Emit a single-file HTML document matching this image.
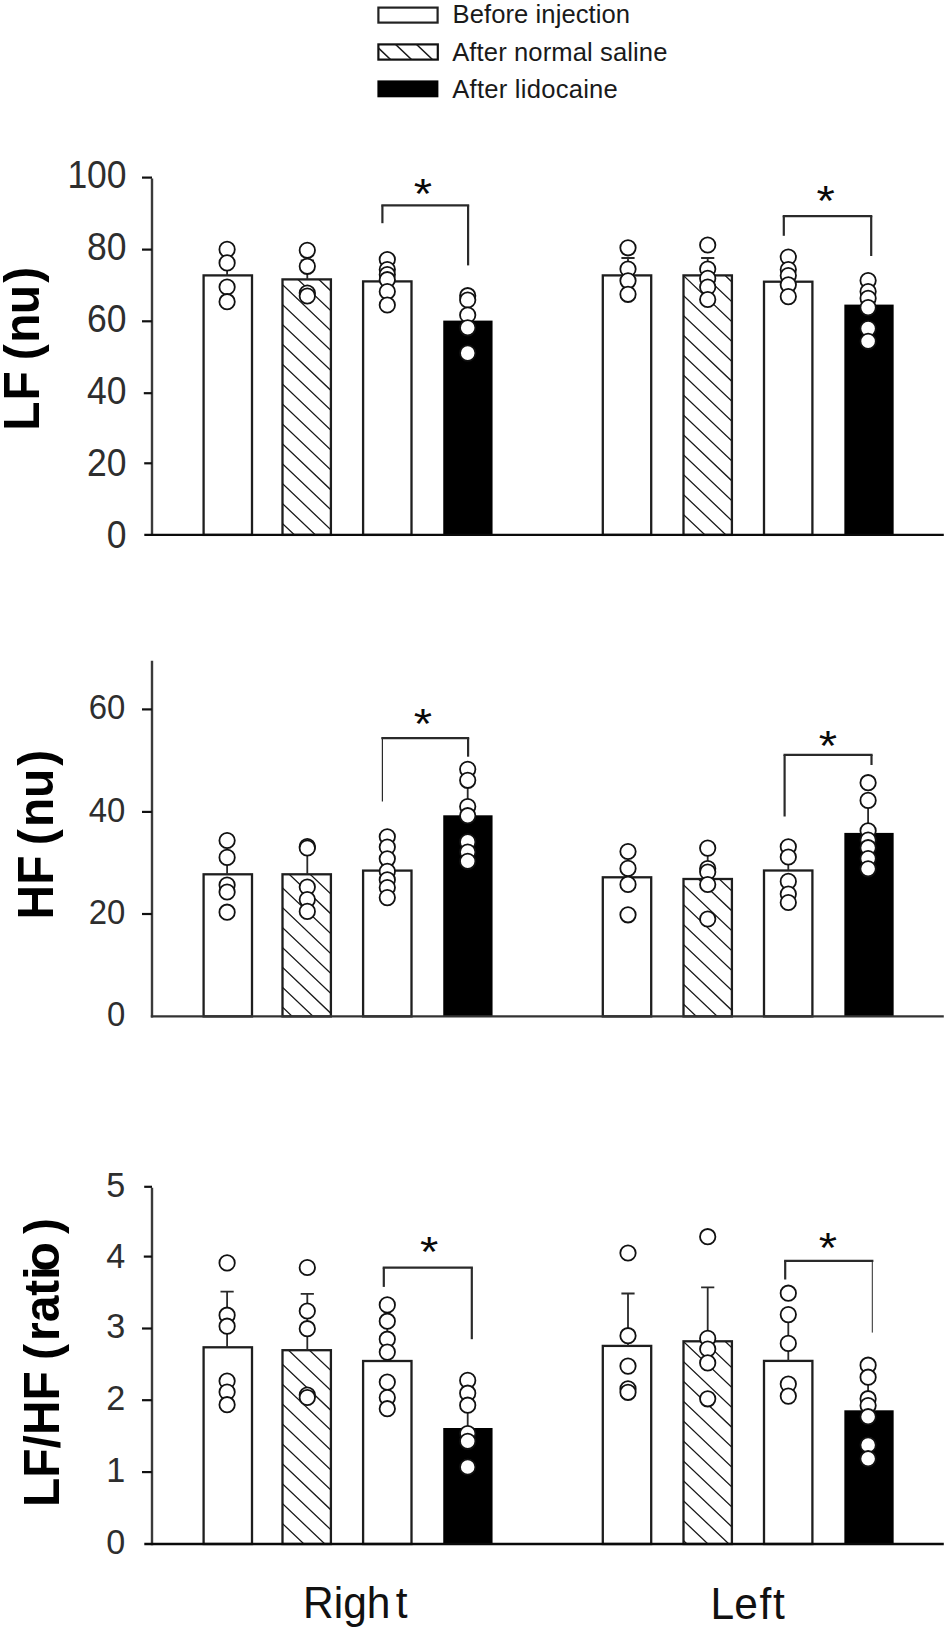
<!DOCTYPE html>
<html lang="en"><head><meta charset="utf-8"><title>LF, HF and LF/HF ratio before and after injection</title>
<style>
html,body{margin:0;padding:0;background:#fff;}
body{width:948px;height:1632px;overflow:hidden;font-family:"Liberation Sans",sans-serif;}
svg{display:block;}
</style></head><body>
<svg width="948" height="1632" viewBox="0 0 948 1632">
<rect width="100%" height="100%" fill="#fff"/>
<defs>
</defs>
<g id="legend">
<rect x="378.4" y="7.6" width="59.2" height="15.0" fill="#fff" stroke="#222" stroke-width="2.2"/>
<rect x="378.4" y="44.4" width="59.4" height="15.2" fill="#fff" stroke="#111" stroke-width="2.2"/>
<clipPath id="hl"><rect x="378.4" y="44.4" width="59.4" height="15.2"/></clipPath>
<path d="M376.4 -53.4L439.8 6.8M376.4 -33.5L439.8 26.7M376.4 -13.6L439.8 46.6M376.4 6.3L439.8 66.5M376.4 26.2L439.8 86.4M376.4 46.1L439.8 106.3M376.4 66.0L439.8 126.2M376.4 85.9L439.8 146.1" stroke="#1a1a1a" stroke-width="1.5" fill="none" clip-path="url(#hl)"/>
<rect x="377.4" y="80.4" width="61.0" height="16.9" fill="#000"/>
<g font-family="'Liberation Sans', sans-serif" font-size="25.6" fill="#1a1a1a">
<text x="452.6" y="23.3" textLength="177.4">Before injection</text>
<text x="452.2" y="60.5" textLength="215.2">After normal saline</text>
<text x="452.2" y="97.5" textLength="165.6">After lidocaine</text>
</g></g>
<g id="c1">
<rect x="203.6" y="275.4" width="48.4" height="259.5" fill="#fff" stroke="#1e1e1e" stroke-width="2.3"/>
<path d="M227.1 275.4V262.0M220.5 262.0H233.7" stroke="#2a2a2a" stroke-width="1.8" fill="none"/>
<circle cx="227.1" cy="249.4" r="7.7" fill="#fff" stroke="#111" stroke-width="1.8"/>
<circle cx="227.1" cy="262.9" r="7.7" fill="#fff" stroke="#111" stroke-width="1.8"/>
<circle cx="227.1" cy="287.0" r="7.7" fill="#fff" stroke="#111" stroke-width="1.8"/>
<circle cx="227.1" cy="301.7" r="7.7" fill="#fff" stroke="#111" stroke-width="1.8"/>
<rect x="282.5" y="279.4" width="48.4" height="255.5" fill="#fff" stroke="#1e1e1e" stroke-width="2.3"/>
<clipPath id="h1"><rect x="282.5" y="279.4" width="48.4" height="255.5"/></clipPath>
<path d="M280.5 203.2L332.9 253.0M280.5 223.1L332.9 272.9M280.5 243.0L332.9 292.8M280.5 262.9L332.9 312.7M280.5 282.8L332.9 332.6M280.5 302.7L332.9 352.5M280.5 322.6L332.9 372.4M280.5 342.5L332.9 392.3M280.5 362.4L332.9 412.2M280.5 382.3L332.9 432.1M280.5 402.2L332.9 452.0M280.5 422.1L332.9 471.9M280.5 442.0L332.9 491.8M280.5 461.9L332.9 511.7M280.5 481.8L332.9 531.6M280.5 501.7L332.9 551.5M280.5 521.6L332.9 571.4M280.5 541.5L332.9 591.3M280.5 561.4L332.9 611.2" stroke="#1a1a1a" stroke-width="1.3" fill="none" clip-path="url(#h1)"/>
<path d="M307.3 279.4V260.4M300.7 260.4H313.9" stroke="#2a2a2a" stroke-width="1.8" fill="none"/>
<circle cx="307.3" cy="250.3" r="7.7" fill="#fff" stroke="#111" stroke-width="1.8"/>
<circle cx="307.3" cy="266.3" r="7.7" fill="#fff" stroke="#111" stroke-width="1.8"/>
<circle cx="307.3" cy="293.0" r="7.7" fill="#fff" stroke="#111" stroke-width="1.8"/>
<circle cx="307.3" cy="296.0" r="7.7" fill="#fff" stroke="#111" stroke-width="1.8"/>
<rect x="363.1" y="281.4" width="48.4" height="253.5" fill="#fff" stroke="#1e1e1e" stroke-width="2.3"/>
<path d="M387.3 281.4V271.0M380.7 271.0H393.9" stroke="#2a2a2a" stroke-width="1.8" fill="none"/>
<circle cx="387.3" cy="259.5" r="7.7" fill="#fff" stroke="#111" stroke-width="1.8"/>
<circle cx="387.3" cy="269.6" r="7.7" fill="#fff" stroke="#111" stroke-width="1.8"/>
<circle cx="387.3" cy="274.6" r="7.7" fill="#fff" stroke="#111" stroke-width="1.8"/>
<circle cx="387.3" cy="279.7" r="7.7" fill="#fff" stroke="#111" stroke-width="1.8"/>
<circle cx="387.3" cy="291.5" r="7.7" fill="#fff" stroke="#111" stroke-width="1.8"/>
<circle cx="387.3" cy="305.0" r="7.7" fill="#fff" stroke="#111" stroke-width="1.8"/>
<rect x="443.25" y="320.6" width="49.3" height="214.3" fill="#000"/>
<path d="M467.7 321.0V299.0M461.1 299.0H474.3" stroke="#2a2a2a" stroke-width="1.8" fill="none"/>
<circle cx="467.7" cy="295.7" r="7.7" fill="#fff" stroke="#111" stroke-width="1.8"/>
<circle cx="467.7" cy="300.0" r="7.7" fill="#fff" stroke="#111" stroke-width="1.8"/>
<circle cx="467.7" cy="315.0" r="7.7" fill="#fff" stroke="#111" stroke-width="1.8"/>
<circle cx="467.7" cy="327.8" r="7.7" fill="#fff" stroke="#111" stroke-width="1.8"/>
<circle cx="467.7" cy="353.1" r="7.7" fill="#fff" stroke="#111" stroke-width="1.8"/>
<rect x="602.8" y="275.4" width="48.4" height="259.5" fill="#fff" stroke="#1e1e1e" stroke-width="2.3"/>
<path d="M628.0 275.4V258.0M621.4 258.0H634.6" stroke="#2a2a2a" stroke-width="1.8" fill="none"/>
<circle cx="628.0" cy="247.8" r="7.7" fill="#fff" stroke="#111" stroke-width="1.8"/>
<circle cx="628.0" cy="269.0" r="7.7" fill="#fff" stroke="#111" stroke-width="1.8"/>
<circle cx="628.0" cy="280.8" r="7.7" fill="#fff" stroke="#111" stroke-width="1.8"/>
<circle cx="628.0" cy="294.3" r="7.7" fill="#fff" stroke="#111" stroke-width="1.8"/>
<rect x="683.5" y="275.4" width="48.4" height="259.5" fill="#fff" stroke="#1e1e1e" stroke-width="2.3"/>
<clipPath id="h2"><rect x="683.5" y="275.4" width="48.4" height="259.5"/></clipPath>
<path d="M681.5 194.2L733.9 244.0M681.5 214.1L733.9 263.9M681.5 234.0L733.9 283.8M681.5 253.9L733.9 303.7M681.5 273.8L733.9 323.6M681.5 293.7L733.9 343.5M681.5 313.6L733.9 363.4M681.5 333.5L733.9 383.3M681.5 353.4L733.9 403.2M681.5 373.3L733.9 423.1M681.5 393.2L733.9 443.0M681.5 413.1L733.9 462.9M681.5 433.0L733.9 482.8M681.5 452.9L733.9 502.7M681.5 472.8L733.9 522.6M681.5 492.7L733.9 542.5M681.5 512.6L733.9 562.4M681.5 532.5L733.9 582.3M681.5 552.4L733.9 602.2M681.5 572.3L733.9 622.1" stroke="#1a1a1a" stroke-width="1.3" fill="none" clip-path="url(#h2)"/>
<path d="M707.7 275.4V258.0M701.1 258.0H714.3" stroke="#2a2a2a" stroke-width="1.8" fill="none"/>
<circle cx="707.7" cy="245.0" r="7.7" fill="#fff" stroke="#111" stroke-width="1.8"/>
<circle cx="707.7" cy="269.0" r="7.7" fill="#fff" stroke="#111" stroke-width="1.8"/>
<circle cx="707.7" cy="278.4" r="7.7" fill="#fff" stroke="#111" stroke-width="1.8"/>
<circle cx="707.7" cy="287.0" r="7.7" fill="#fff" stroke="#111" stroke-width="1.8"/>
<circle cx="707.7" cy="299.5" r="7.7" fill="#fff" stroke="#111" stroke-width="1.8"/>
<rect x="764.0" y="281.7" width="48.4" height="253.2" fill="#fff" stroke="#1e1e1e" stroke-width="2.3"/>
<path d="M788.3 281.7V270.0M781.7 270.0H794.9" stroke="#2a2a2a" stroke-width="1.8" fill="none"/>
<circle cx="788.3" cy="257.0" r="7.7" fill="#fff" stroke="#111" stroke-width="1.8"/>
<circle cx="788.3" cy="269.6" r="7.7" fill="#fff" stroke="#111" stroke-width="1.8"/>
<circle cx="788.3" cy="275.5" r="7.7" fill="#fff" stroke="#111" stroke-width="1.8"/>
<circle cx="788.3" cy="284.8" r="7.7" fill="#fff" stroke="#111" stroke-width="1.8"/>
<circle cx="788.3" cy="296.6" r="7.7" fill="#fff" stroke="#111" stroke-width="1.8"/>
<rect x="844.35" y="304.6" width="49.3" height="230.3" fill="#000"/>
<path d="M868.1 305.0V289.8M861.5 289.8H874.7" stroke="#2a2a2a" stroke-width="1.8" fill="none"/>
<circle cx="868.1" cy="280.5" r="7.7" fill="#fff" stroke="#111" stroke-width="1.8"/>
<circle cx="868.1" cy="291.5" r="7.7" fill="#fff" stroke="#111" stroke-width="1.8"/>
<circle cx="868.1" cy="298.3" r="7.7" fill="#fff" stroke="#111" stroke-width="1.8"/>
<circle cx="868.1" cy="307.6" r="7.7" fill="#fff" stroke="#111" stroke-width="1.8"/>
<circle cx="868.1" cy="328.6" r="7.7" fill="#fff" stroke="#111" stroke-width="1.8"/>
<circle cx="868.1" cy="341.3" r="7.7" fill="#fff" stroke="#111" stroke-width="1.8"/>
<path d="M152.0 178.6V536.1" stroke="#3a3a3a" stroke-width="2.4" fill="none"/>
<path d="M144.3 534.9H943.8" stroke="#0a0a0a" stroke-width="2.4" fill="none"/>
<path d="M142.0 177.6H152.0" stroke="#111" stroke-width="2.2" fill="none"/>
<text transform="translate(126.6 187.7) scale(0.915 1)" text-anchor="end" font-family="'Liberation Sans', sans-serif" font-size="38.8" fill="#2e2e2e">100</text>
<path d="M142.0 249.6H152.0" stroke="#111" stroke-width="2.2" fill="none"/>
<text transform="translate(126.6 259.7) scale(0.915 1)" text-anchor="end" font-family="'Liberation Sans', sans-serif" font-size="38.8" fill="#2e2e2e">80</text>
<path d="M142.0 321.3H152.0" stroke="#111" stroke-width="2.2" fill="none"/>
<text transform="translate(126.6 331.7) scale(0.915 1)" text-anchor="end" font-family="'Liberation Sans', sans-serif" font-size="38.8" fill="#2e2e2e">60</text>
<path d="M143.8 393.2H152.0" stroke="#111" stroke-width="2.2" fill="none"/>
<text transform="translate(126.6 403.6) scale(0.915 1)" text-anchor="end" font-family="'Liberation Sans', sans-serif" font-size="38.8" fill="#2e2e2e">40</text>
<path d="M144.2 463.3H152.0" stroke="#111" stroke-width="2.2" fill="none"/>
<text transform="translate(126.6 475.6) scale(0.915 1)" text-anchor="end" font-family="'Liberation Sans', sans-serif" font-size="38.8" fill="#2e2e2e">20</text>
<text transform="translate(126.6 547.6) scale(0.915 1)" text-anchor="end" font-family="'Liberation Sans', sans-serif" font-size="38.8" fill="#2e2e2e">0</text>
<text transform="translate(39.3 430.65) rotate(-90) scale(0.966 1)" dx="0.00 0.83 0.00 -2.28 1.45 -0.72 2.28" font-family="'Liberation Sans', sans-serif" font-weight="bold" font-size="49.6" fill="#000">LF (nu)</text>
<path d="M382.4 205.4H468.1" stroke="#2a2a2a" stroke-width="2.2" fill="none" stroke-linecap="square"/>
<path d="M382.4 205.4V223.2" stroke="#2a2a2a" stroke-width="2.2" fill="none"/>
<path d="M468.1 205.4V265.4" stroke="#2a2a2a" stroke-width="2.2" fill="none"/>
<text transform="translate(423.0 207.9) scale(1.12 1)" text-anchor="middle" font-family="'Liberation Sans', sans-serif" font-size="42" fill="#0a0a0a" >*</text>
<path d="M783.8 216.1H871.2" stroke="#2a2a2a" stroke-width="2.2" fill="none" stroke-linecap="square"/>
<path d="M783.8 216.1V235.8" stroke="#2a2a2a" stroke-width="2.2" fill="none"/>
<path d="M871.2 216.1V256.0" stroke="#2a2a2a" stroke-width="2.2" fill="none"/>
<text transform="translate(825.7 215.1) scale(1.12 1)" text-anchor="middle" font-family="'Liberation Sans', sans-serif" font-size="42" fill="#0a0a0a" >*</text>
</g>
<g id="c2">
<rect x="203.6" y="874.3" width="48.4" height="142.1" fill="#fff" stroke="#1e1e1e" stroke-width="2.3"/>
<path d="M227.1 874.3V857.0M220.5 857.0H233.7" stroke="#2a2a2a" stroke-width="1.8" fill="none"/>
<circle cx="227.1" cy="840.5" r="7.7" fill="#fff" stroke="#111" stroke-width="1.8"/>
<circle cx="227.1" cy="857.4" r="7.7" fill="#fff" stroke="#111" stroke-width="1.8"/>
<circle cx="227.1" cy="885.0" r="7.7" fill="#fff" stroke="#111" stroke-width="1.8"/>
<circle cx="227.1" cy="892.0" r="7.7" fill="#fff" stroke="#111" stroke-width="1.8"/>
<circle cx="227.1" cy="912.2" r="7.7" fill="#fff" stroke="#111" stroke-width="1.8"/>
<rect x="282.5" y="874.3" width="48.4" height="142.1" fill="#fff" stroke="#1e1e1e" stroke-width="2.3"/>
<clipPath id="h3"><rect x="282.5" y="874.3" width="48.4" height="142.1"/></clipPath>
<path d="M280.5 806.3L332.9 856.1M280.5 826.2L332.9 876.0M280.5 846.1L332.9 895.9M280.5 866.0L332.9 915.8M280.5 885.9L332.9 935.7M280.5 905.8L332.9 955.6M280.5 925.7L332.9 975.5M280.5 945.6L332.9 995.4M280.5 965.5L332.9 1015.3M280.5 985.4L332.9 1035.2M280.5 1005.3L332.9 1055.1M280.5 1025.2L332.9 1075.0M280.5 1045.1L332.9 1094.9" stroke="#1a1a1a" stroke-width="1.3" fill="none" clip-path="url(#h3)"/>
<path d="M307.3 874.3V850.0M300.7 850.0H313.9" stroke="#2a2a2a" stroke-width="1.8" fill="none"/>
<circle cx="307.3" cy="846.5" r="7.7" fill="#fff" stroke="#111" stroke-width="1.8"/>
<circle cx="307.3" cy="848.0" r="7.7" fill="#fff" stroke="#111" stroke-width="1.8"/>
<circle cx="307.3" cy="887.0" r="7.7" fill="#fff" stroke="#111" stroke-width="1.8"/>
<circle cx="307.3" cy="899.6" r="7.7" fill="#fff" stroke="#111" stroke-width="1.8"/>
<circle cx="307.3" cy="911.4" r="7.7" fill="#fff" stroke="#111" stroke-width="1.8"/>
<rect x="363.1" y="870.6" width="48.4" height="145.8" fill="#fff" stroke="#1e1e1e" stroke-width="2.3"/>
<path d="M387.3 870.6V848.0M380.7 848.0H393.9" stroke="#2a2a2a" stroke-width="1.8" fill="none"/>
<circle cx="387.3" cy="836.8" r="7.7" fill="#fff" stroke="#111" stroke-width="1.8"/>
<circle cx="387.3" cy="847.0" r="7.7" fill="#fff" stroke="#111" stroke-width="1.8"/>
<circle cx="387.3" cy="858.8" r="7.7" fill="#fff" stroke="#111" stroke-width="1.8"/>
<circle cx="387.3" cy="871.4" r="7.7" fill="#fff" stroke="#111" stroke-width="1.8"/>
<circle cx="387.3" cy="879.9" r="7.7" fill="#fff" stroke="#111" stroke-width="1.8"/>
<circle cx="387.3" cy="887.5" r="7.7" fill="#fff" stroke="#111" stroke-width="1.8"/>
<circle cx="387.3" cy="897.6" r="7.7" fill="#fff" stroke="#111" stroke-width="1.8"/>
<rect x="443.25" y="815.3" width="49.3" height="201.1" fill="#000"/>
<path d="M467.7 815.7V781.0M461.1 781.0H474.3" stroke="#2a2a2a" stroke-width="1.8" fill="none"/>
<circle cx="467.7" cy="769.3" r="7.7" fill="#fff" stroke="#111" stroke-width="1.8"/>
<circle cx="467.7" cy="780.3" r="7.7" fill="#fff" stroke="#111" stroke-width="1.8"/>
<circle cx="467.7" cy="806.5" r="7.7" fill="#fff" stroke="#111" stroke-width="1.8"/>
<circle cx="467.7" cy="815.7" r="7.7" fill="#fff" stroke="#111" stroke-width="1.8"/>
<circle cx="467.7" cy="841.9" r="7.7" fill="#fff" stroke="#111" stroke-width="1.8"/>
<circle cx="467.7" cy="852.0" r="7.7" fill="#fff" stroke="#111" stroke-width="1.8"/>
<circle cx="467.7" cy="861.3" r="7.7" fill="#fff" stroke="#111" stroke-width="1.8"/>
<rect x="602.8" y="877.3" width="48.4" height="139.1" fill="#fff" stroke="#1e1e1e" stroke-width="2.3"/>
<path d="M628.0 877.3V853.0M621.4 853.0H634.6" stroke="#2a2a2a" stroke-width="1.8" fill="none"/>
<circle cx="628.0" cy="851.5" r="7.7" fill="#fff" stroke="#111" stroke-width="1.8"/>
<circle cx="628.0" cy="868.4" r="7.7" fill="#fff" stroke="#111" stroke-width="1.8"/>
<circle cx="628.0" cy="884.4" r="7.7" fill="#fff" stroke="#111" stroke-width="1.8"/>
<circle cx="628.0" cy="914.8" r="7.7" fill="#fff" stroke="#111" stroke-width="1.8"/>
<rect x="683.5" y="879.0" width="48.4" height="137.4" fill="#fff" stroke="#1e1e1e" stroke-width="2.3"/>
<clipPath id="h4"><rect x="683.5" y="879.0" width="48.4" height="137.4"/></clipPath>
<path d="M681.5 803.3L733.9 853.1M681.5 823.2L733.9 873.0M681.5 843.1L733.9 892.9M681.5 863.0L733.9 912.8M681.5 882.9L733.9 932.7M681.5 902.8L733.9 952.6M681.5 922.7L733.9 972.5M681.5 942.6L733.9 992.4M681.5 962.5L733.9 1012.3M681.5 982.4L733.9 1032.2M681.5 1002.3L733.9 1052.1M681.5 1022.2L733.9 1072.0M681.5 1042.1L733.9 1091.9" stroke="#1a1a1a" stroke-width="1.3" fill="none" clip-path="url(#h4)"/>
<path d="M707.7 879.0V850.0M701.1 850.0H714.3" stroke="#2a2a2a" stroke-width="1.8" fill="none"/>
<circle cx="707.7" cy="848.1" r="7.7" fill="#fff" stroke="#111" stroke-width="1.8"/>
<circle cx="707.7" cy="868.5" r="7.7" fill="#fff" stroke="#111" stroke-width="1.8"/>
<circle cx="707.7" cy="872.0" r="7.7" fill="#fff" stroke="#111" stroke-width="1.8"/>
<circle cx="707.7" cy="884.5" r="7.7" fill="#fff" stroke="#111" stroke-width="1.8"/>
<circle cx="707.7" cy="919.0" r="7.7" fill="#fff" stroke="#111" stroke-width="1.8"/>
<rect x="764.0" y="870.5" width="48.4" height="145.9" fill="#fff" stroke="#1e1e1e" stroke-width="2.3"/>
<path d="M788.3 870.5V858.0M781.7 858.0H794.9" stroke="#2a2a2a" stroke-width="1.8" fill="none"/>
<circle cx="788.3" cy="846.8" r="7.7" fill="#fff" stroke="#111" stroke-width="1.8"/>
<circle cx="788.3" cy="857.0" r="7.7" fill="#fff" stroke="#111" stroke-width="1.8"/>
<circle cx="788.3" cy="881.4" r="7.7" fill="#fff" stroke="#111" stroke-width="1.8"/>
<circle cx="788.3" cy="894.1" r="7.7" fill="#fff" stroke="#111" stroke-width="1.8"/>
<circle cx="788.3" cy="902.5" r="7.7" fill="#fff" stroke="#111" stroke-width="1.8"/>
<rect x="844.35" y="832.9" width="49.3" height="183.5" fill="#000"/>
<path d="M868.1 833.3V801.0M861.5 801.0H874.7" stroke="#2a2a2a" stroke-width="1.8" fill="none"/>
<circle cx="868.1" cy="782.7" r="7.7" fill="#fff" stroke="#111" stroke-width="1.8"/>
<circle cx="868.1" cy="800.4" r="7.7" fill="#fff" stroke="#111" stroke-width="1.8"/>
<circle cx="868.1" cy="830.8" r="7.7" fill="#fff" stroke="#111" stroke-width="1.8"/>
<circle cx="868.1" cy="840.0" r="7.7" fill="#fff" stroke="#111" stroke-width="1.8"/>
<circle cx="868.1" cy="847.7" r="7.7" fill="#fff" stroke="#111" stroke-width="1.8"/>
<circle cx="868.1" cy="858.6" r="7.7" fill="#fff" stroke="#111" stroke-width="1.8"/>
<circle cx="868.1" cy="868.8" r="7.7" fill="#fff" stroke="#111" stroke-width="1.8"/>
<path d="M152.0 660.7V1017.6" stroke="#3a3a3a" stroke-width="2.4" fill="none"/>
<path d="M150.8 1016.4H943.8" stroke="#333" stroke-width="2.4" fill="none"/>
<path d="M142.0 709.4H152.0" stroke="#111" stroke-width="2.2" fill="none"/>
<text transform="translate(125.4 719.0) scale(0.94 1)" text-anchor="end" font-family="'Liberation Sans', sans-serif" font-size="35" fill="#2e2e2e">60</text>
<path d="M142.0 811.9H152.0" stroke="#111" stroke-width="2.2" fill="none"/>
<text transform="translate(125.4 821.5) scale(0.94 1)" text-anchor="end" font-family="'Liberation Sans', sans-serif" font-size="35" fill="#2e2e2e">40</text>
<path d="M142.0 914.0H152.0" stroke="#111" stroke-width="2.2" fill="none"/>
<text transform="translate(125.4 923.6) scale(0.94 1)" text-anchor="end" font-family="'Liberation Sans', sans-serif" font-size="35" fill="#2e2e2e">20</text>
<text transform="translate(125.4 1026.0) scale(0.94 1)" text-anchor="end" font-family="'Liberation Sans', sans-serif" font-size="35" fill="#2e2e2e">0</text>
<text transform="translate(52.9 919.4) rotate(-90) scale(0.966 1)" dx="0.00 0.00 0.00 -3.11 2.38 -0.31 3.11" font-family="'Liberation Sans', sans-serif" font-weight="bold" font-size="49.6" fill="#000">HF (nu)</text>
<path d="M382.4 738.1H468.1" stroke="#2a2a2a" stroke-width="2.2" fill="none" stroke-linecap="square"/>
<path d="M382.4 738.1V801.4" stroke="#2a2a2a" stroke-width="1.2" fill="none"/>
<path d="M468.1 738.1V756.7" stroke="#2a2a2a" stroke-width="2.2" fill="none"/>
<text transform="translate(422.9 738.1) scale(1.12 1)" text-anchor="middle" font-family="'Liberation Sans', sans-serif" font-size="42" fill="#0a0a0a" >*</text>
<path d="M784.6 754.9H871.5" stroke="#2a2a2a" stroke-width="2.2" fill="none" stroke-linecap="square"/>
<path d="M784.6 754.9V816.5" stroke="#2a2a2a" stroke-width="2.2" fill="none"/>
<path d="M871.5 754.9V765.0" stroke="#2a2a2a" stroke-width="2.2" fill="none"/>
<text transform="translate(827.9 760.3) scale(1.12 1)" text-anchor="middle" font-family="'Liberation Sans', sans-serif" font-size="42" fill="#0a0a0a" >*</text>
</g>
<g id="c3">
<rect x="203.6" y="1347.3" width="48.4" height="196.7" fill="#fff" stroke="#1e1e1e" stroke-width="2.3"/>
<path d="M227.1 1347.3V1291.6M220.5 1291.6H233.7" stroke="#2a2a2a" stroke-width="1.8" fill="none"/>
<circle cx="227.1" cy="1262.9" r="7.7" fill="#fff" stroke="#111" stroke-width="1.8"/>
<circle cx="227.1" cy="1315.2" r="7.7" fill="#fff" stroke="#111" stroke-width="1.8"/>
<circle cx="227.1" cy="1326.2" r="7.7" fill="#fff" stroke="#111" stroke-width="1.8"/>
<circle cx="227.1" cy="1381.0" r="7.7" fill="#fff" stroke="#111" stroke-width="1.8"/>
<circle cx="227.1" cy="1392.0" r="7.7" fill="#fff" stroke="#111" stroke-width="1.8"/>
<circle cx="227.1" cy="1404.7" r="7.7" fill="#fff" stroke="#111" stroke-width="1.8"/>
<rect x="282.5" y="1350.2" width="48.4" height="193.8" fill="#fff" stroke="#1e1e1e" stroke-width="2.3"/>
<clipPath id="h5"><rect x="282.5" y="1350.2" width="48.4" height="193.8"/></clipPath>
<path d="M280.5 1263.0L332.9 1312.8M280.5 1282.9L332.9 1332.7M280.5 1302.8L332.9 1352.6M280.5 1322.7L332.9 1372.5M280.5 1342.6L332.9 1392.4M280.5 1362.5L332.9 1412.3M280.5 1382.4L332.9 1432.2M280.5 1402.3L332.9 1452.1M280.5 1422.2L332.9 1472.0M280.5 1442.1L332.9 1491.9M280.5 1462.0L332.9 1511.8M280.5 1481.9L332.9 1531.7M280.5 1501.8L332.9 1551.6M280.5 1521.7L332.9 1571.5M280.5 1541.6L332.9 1591.4M280.5 1561.5L332.9 1611.3M280.5 1581.4L332.9 1631.2" stroke="#1a1a1a" stroke-width="1.3" fill="none" clip-path="url(#h5)"/>
<path d="M307.3 1350.2V1293.8M300.7 1293.8H313.9" stroke="#2a2a2a" stroke-width="1.8" fill="none"/>
<circle cx="307.3" cy="1267.5" r="7.7" fill="#fff" stroke="#111" stroke-width="1.8"/>
<circle cx="307.3" cy="1311.0" r="7.7" fill="#fff" stroke="#111" stroke-width="1.8"/>
<circle cx="307.3" cy="1328.7" r="7.7" fill="#fff" stroke="#111" stroke-width="1.8"/>
<circle cx="307.3" cy="1395.0" r="7.7" fill="#fff" stroke="#111" stroke-width="1.8"/>
<circle cx="307.3" cy="1397.5" r="7.7" fill="#fff" stroke="#111" stroke-width="1.8"/>
<rect x="363.1" y="1361.0" width="48.4" height="183.0" fill="#fff" stroke="#1e1e1e" stroke-width="2.3"/>
<path d="M387.3 1361.0V1322.0M380.7 1322.0H393.9" stroke="#2a2a2a" stroke-width="1.8" fill="none"/>
<circle cx="387.3" cy="1304.9" r="7.7" fill="#fff" stroke="#111" stroke-width="1.8"/>
<circle cx="387.3" cy="1321.2" r="7.7" fill="#fff" stroke="#111" stroke-width="1.8"/>
<circle cx="387.3" cy="1339.2" r="7.7" fill="#fff" stroke="#111" stroke-width="1.8"/>
<circle cx="387.3" cy="1352.1" r="7.7" fill="#fff" stroke="#111" stroke-width="1.8"/>
<circle cx="387.3" cy="1382.1" r="7.7" fill="#fff" stroke="#111" stroke-width="1.8"/>
<circle cx="387.3" cy="1397.5" r="7.7" fill="#fff" stroke="#111" stroke-width="1.8"/>
<circle cx="387.3" cy="1408.7" r="7.7" fill="#fff" stroke="#111" stroke-width="1.8"/>
<rect x="443.25" y="1428.0" width="49.3" height="116.0" fill="#000"/>
<path d="M467.7 1428.4V1405.0M461.1 1405.0H474.3" stroke="#2a2a2a" stroke-width="1.8" fill="none"/>
<circle cx="467.7" cy="1380.4" r="7.7" fill="#fff" stroke="#111" stroke-width="1.8"/>
<circle cx="467.7" cy="1393.2" r="7.7" fill="#fff" stroke="#111" stroke-width="1.8"/>
<circle cx="467.7" cy="1405.2" r="7.7" fill="#fff" stroke="#111" stroke-width="1.8"/>
<circle cx="467.7" cy="1433.5" r="7.7" fill="#fff" stroke="#111" stroke-width="1.8"/>
<circle cx="467.7" cy="1441.3" r="7.7" fill="#fff" stroke="#111" stroke-width="1.8"/>
<circle cx="467.7" cy="1467.0" r="7.7" fill="#fff" stroke="#111" stroke-width="1.8"/>
<rect x="602.8" y="1345.9" width="48.4" height="198.1" fill="#fff" stroke="#1e1e1e" stroke-width="2.3"/>
<path d="M628.0 1345.9V1293.5M621.4 1293.5H634.6" stroke="#2a2a2a" stroke-width="1.8" fill="none"/>
<circle cx="628.0" cy="1253.0" r="7.7" fill="#fff" stroke="#111" stroke-width="1.8"/>
<circle cx="628.0" cy="1335.7" r="7.7" fill="#fff" stroke="#111" stroke-width="1.8"/>
<circle cx="628.0" cy="1366.1" r="7.7" fill="#fff" stroke="#111" stroke-width="1.8"/>
<circle cx="628.0" cy="1388.9" r="7.7" fill="#fff" stroke="#111" stroke-width="1.8"/>
<circle cx="628.0" cy="1392.3" r="7.7" fill="#fff" stroke="#111" stroke-width="1.8"/>
<rect x="683.5" y="1341.3" width="48.4" height="202.7" fill="#fff" stroke="#1e1e1e" stroke-width="2.3"/>
<clipPath id="h6"><rect x="683.5" y="1341.3" width="48.4" height="202.7"/></clipPath>
<path d="M681.5 1260.1L733.9 1309.9M681.5 1280.0L733.9 1329.8M681.5 1299.9L733.9 1349.7M681.5 1319.8L733.9 1369.6M681.5 1339.7L733.9 1389.5M681.5 1359.6L733.9 1409.4M681.5 1379.5L733.9 1429.3M681.5 1399.4L733.9 1449.2M681.5 1419.3L733.9 1469.1M681.5 1439.2L733.9 1489.0M681.5 1459.1L733.9 1508.9M681.5 1479.0L733.9 1528.8M681.5 1498.9L733.9 1548.7M681.5 1518.8L733.9 1568.6M681.5 1538.7L733.9 1588.5M681.5 1558.6L733.9 1608.4M681.5 1578.5L733.9 1628.3" stroke="#1a1a1a" stroke-width="1.3" fill="none" clip-path="url(#h6)"/>
<path d="M707.7 1341.3V1287.3M701.1 1287.3H714.3" stroke="#2a2a2a" stroke-width="1.8" fill="none"/>
<circle cx="707.7" cy="1236.7" r="7.7" fill="#fff" stroke="#111" stroke-width="1.8"/>
<circle cx="707.7" cy="1338.4" r="7.7" fill="#fff" stroke="#111" stroke-width="1.8"/>
<circle cx="707.7" cy="1349.0" r="7.7" fill="#fff" stroke="#111" stroke-width="1.8"/>
<circle cx="707.7" cy="1362.9" r="7.7" fill="#fff" stroke="#111" stroke-width="1.8"/>
<circle cx="707.7" cy="1398.8" r="7.7" fill="#fff" stroke="#111" stroke-width="1.8"/>
<rect x="764.0" y="1360.9" width="48.4" height="183.1" fill="#fff" stroke="#1e1e1e" stroke-width="2.3"/>
<path d="M788.3 1360.9V1315.0M781.7 1315.0H794.9" stroke="#2a2a2a" stroke-width="1.8" fill="none"/>
<circle cx="788.3" cy="1293.2" r="7.7" fill="#fff" stroke="#111" stroke-width="1.8"/>
<circle cx="788.3" cy="1314.6" r="7.7" fill="#fff" stroke="#111" stroke-width="1.8"/>
<circle cx="788.3" cy="1343.4" r="7.7" fill="#fff" stroke="#111" stroke-width="1.8"/>
<circle cx="788.3" cy="1384.1" r="7.7" fill="#fff" stroke="#111" stroke-width="1.8"/>
<circle cx="788.3" cy="1396.1" r="7.7" fill="#fff" stroke="#111" stroke-width="1.8"/>
<rect x="844.35" y="1410.3" width="49.3" height="133.7" fill="#000"/>
<path d="M868.1 1410.7V1379.0M861.5 1379.0H874.7" stroke="#2a2a2a" stroke-width="1.8" fill="none"/>
<circle cx="868.1" cy="1365.2" r="7.7" fill="#fff" stroke="#111" stroke-width="1.8"/>
<circle cx="868.1" cy="1377.2" r="7.7" fill="#fff" stroke="#111" stroke-width="1.8"/>
<circle cx="868.1" cy="1398.7" r="7.7" fill="#fff" stroke="#111" stroke-width="1.8"/>
<circle cx="868.1" cy="1405.5" r="7.7" fill="#fff" stroke="#111" stroke-width="1.8"/>
<circle cx="868.1" cy="1416.7" r="7.7" fill="#fff" stroke="#111" stroke-width="1.8"/>
<circle cx="868.1" cy="1445.0" r="7.7" fill="#fff" stroke="#111" stroke-width="1.8"/>
<circle cx="868.1" cy="1458.7" r="7.7" fill="#fff" stroke="#111" stroke-width="1.8"/>
<path d="M152.0 1187.8V1545.2" stroke="#3a3a3a" stroke-width="2.4" fill="none"/>
<path d="M144.3 1544.0H943.8" stroke="#0a0a0a" stroke-width="2.4" fill="none"/>
<path d="M144.2 1186.8H152.0" stroke="#111" stroke-width="2.2" fill="none"/>
<text transform="translate(125.2 1197.2) scale(0.96 1)" text-anchor="end" font-family="'Liberation Sans', sans-serif" font-size="35.6" fill="#2e2e2e">5</text>
<path d="M143.8 1256.6H152.0" stroke="#111" stroke-width="2.2" fill="none"/>
<text transform="translate(125.2 1268.4) scale(0.96 1)" text-anchor="end" font-family="'Liberation Sans', sans-serif" font-size="35.6" fill="#2e2e2e">4</text>
<path d="M142.0 1328.5H152.0" stroke="#111" stroke-width="2.2" fill="none"/>
<text transform="translate(125.2 1338.2) scale(0.96 1)" text-anchor="end" font-family="'Liberation Sans', sans-serif" font-size="35.6" fill="#2e2e2e">3</text>
<path d="M142.0 1400.2H152.0" stroke="#111" stroke-width="2.2" fill="none"/>
<text transform="translate(125.2 1410.0) scale(0.96 1)" text-anchor="end" font-family="'Liberation Sans', sans-serif" font-size="35.6" fill="#2e2e2e">2</text>
<path d="M142.0 1472.1H152.0" stroke="#111" stroke-width="2.2" fill="none"/>
<text transform="translate(125.2 1481.8) scale(0.96 1)" text-anchor="end" font-family="'Liberation Sans', sans-serif" font-size="35.6" fill="#2e2e2e">1</text>
<text transform="translate(125.2 1553.7) scale(0.96 1)" text-anchor="end" font-family="'Liberation Sans', sans-serif" font-size="35.6" fill="#2e2e2e">0</text>
<text transform="translate(59.1 1506.9) rotate(-90) scale(0.966 1)" dx="0.00 0.00 0.00 0.00 0.00 0.00 -2.07 3.11 0.00 0.00 0.00 -5.18 8.28" font-family="'Liberation Sans', sans-serif" font-weight="bold" font-size="49.6" fill="#000">LF/HF (ratio)</text>
<path d="M383.8 1267.7H471.8" stroke="#2a2a2a" stroke-width="2.2" fill="none" stroke-linecap="square"/>
<path d="M383.8 1267.7V1286.9" stroke="#2a2a2a" stroke-width="2.2" fill="none"/>
<path d="M471.8 1267.7V1339.2" stroke="#2a2a2a" stroke-width="2.2" fill="none"/>
<text transform="translate(429.2 1265.9) scale(1.12 1)" text-anchor="middle" font-family="'Liberation Sans', sans-serif" font-size="42" fill="#0a0a0a" >*</text>
<path d="M785.2 1260.9H872.3" stroke="#2a2a2a" stroke-width="2.2" fill="none" stroke-linecap="square"/>
<path d="M785.2 1260.9V1279.5" stroke="#2a2a2a" stroke-width="2.2" fill="none"/>
<path d="M872.3 1260.9V1332.6" stroke="#2a2a2a" stroke-width="1.0" fill="none"/>
<text transform="translate(828.0 1261.5) scale(1.12 1)" text-anchor="middle" font-family="'Liberation Sans', sans-serif" font-size="42" fill="#0a0a0a" >*</text>
</g>
<g font-family="'Liberation Sans', sans-serif" font-size="43.5" fill="#111">
<text transform="translate(303.0 1618.3) scale(0.977 1)">Righ<tspan dx="5.6">t</tspan></text>
<text transform="translate(710.5 1618.6) scale(0.977 1)">Le<tspan dx="1.8">f</tspan><tspan dx="1.8">t</tspan></text>
</g>
</svg>
</body></html>
